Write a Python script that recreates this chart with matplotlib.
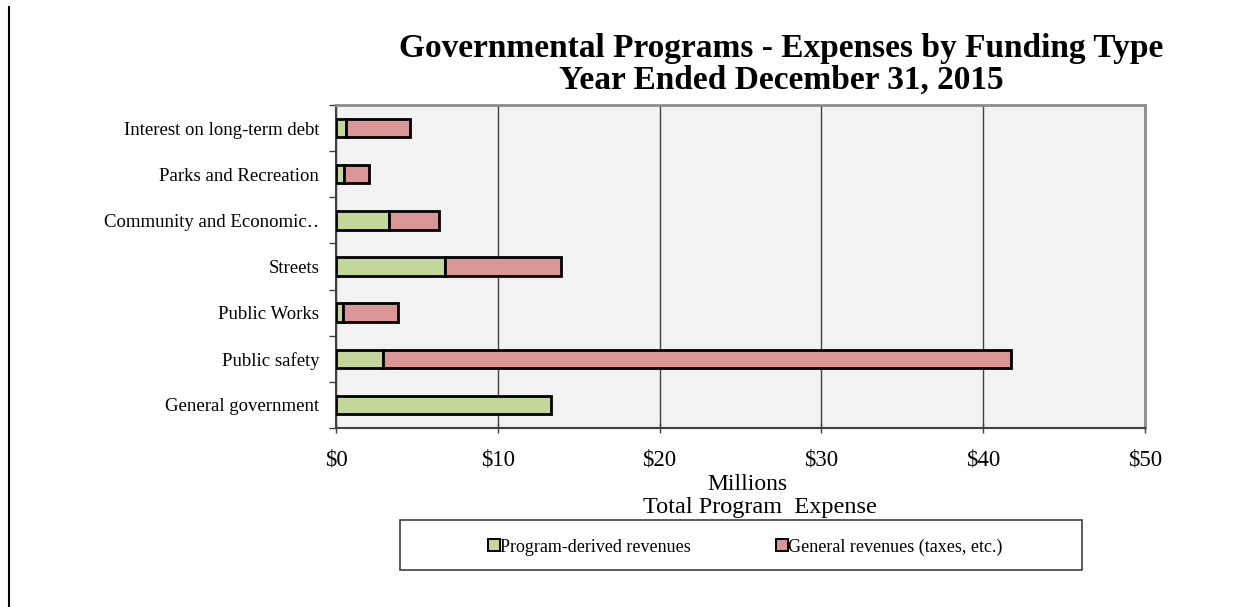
import matplotlib
matplotlib.use("Agg")
import matplotlib.pyplot as plt
from matplotlib.patches import Rectangle
from matplotlib.lines import Line2D
import numpy as np

categories = ["General government", "Public safety", "Public Works", "Streets",
              "Community and Economic\u2025", "Parks and Recreation",
              "Interest on long-term debt"]
program_derived = [13.29, 2.93, 0.45, 6.72, 3.30, 0.51, 0.62]
general_revenues = [0.0, 38.77, 3.36, 7.21, 3.09, 1.55, 3.95]
xtick_values = [0, 10, 20, 30, 40, 50]
xtick_labels = ["$0", "$10", "$20", "$30", "$40", "$50"]
series_names = ["Program-derived revenues", "General revenues (taxes, etc.)"]

green = "#C4D79B"
red = "#DA9694"
serif = ["Liberation Serif", "DejaVu Serif"]

plt.rcParams["font.family"] = serif

fig = plt.figure(figsize=(12.54, 6.07), dpi=100)
ax = fig.add_axes([336/1254, 1-428/607, (1145-336)/1254, (428-105)/607])
ax.set_facecolor("#F2F2F2")

y = np.arange(len(categories))
h = 0.40
ax.barh(y, program_derived, height=h, color=green, edgecolor="black", linewidth=2.0, zorder=3)
gr = np.array(general_revenues)
mask = gr > 0
ax.barh(y[mask], gr[mask], left=np.array(program_derived)[mask], height=h,
        color=red, edgecolor="black", linewidth=2.0, zorder=3)

ax.set_xlim(0, 50)
ax.set_ylim(-0.5, len(categories) - 0.5)
ax.set_xticks(xtick_values)
ax.set_xticklabels(xtick_labels, fontsize=16.5)
ax.set_yticks(y)
ax.set_yticklabels(categories, fontsize=13.5)
ax.set_yticks(np.arange(-0.5, len(categories), 1.0), minor=True)
ax.tick_params(axis="y", which="major", length=0, pad=12)
ax.tick_params(axis="y", which="minor", length=5, width=1, color="#404040", direction="out")
ax.tick_params(axis="x", which="major", length=7, width=1, color="#404040", direction="inout", pad=12)
ax.xaxis.grid(True, color="#404040", linewidth=1.0, zorder=1)
ax.set_axisbelow(True)

for s in ["top", "right"]:
    ax.spines[s].set_color("#8C8C8C")
    ax.spines[s].set_linewidth(2)
ax.spines["left"].set_color("#404040")
ax.spines["left"].set_linewidth(1.5)
ax.spines["bottom"].set_color("#404040")
ax.spines["bottom"].set_linewidth(1.5)

fig.text(781/1254, 1-57/607, "Governmental Programs - Expenses by Funding Type",
         ha="center", va="baseline", fontsize=24, fontweight="bold", family=serif)
fig.text(781/1254, 1-89/607, "Year Ended December 31, 2015",
         ha="center", va="baseline", fontsize=24, fontweight="bold", family=serif)

fig.text(747/1254, 1-484/607, "Millions", ha="center", va="center", fontsize=17)
fig.text(760/1254, 1-507/607, "Total Program  Expense", ha="center", va="center", fontsize=17.5)

# legend box
fig.patches.append(Rectangle((400/1254, 1-570/607), (1082-400)/1254, 50/607,
                             transform=fig.transFigure, facecolor="white",
                             edgecolor="#404040", linewidth=1.2))
handles = [Line2D([], [], marker="s", linestyle="none", markersize=8,
                  markerfacecolor=green, markeredgecolor="black", markeredgewidth=1.4),
           Line2D([], [], marker="s", linestyle="none", markersize=8,
                  markerfacecolor=red, markeredgecolor="black", markeredgewidth=1.4)]
fig.legend(handles, series_names, loc="center", bbox_to_anchor=(745/1254, 1-547/607),
           ncol=2, frameon=False, fontsize=13, handletextpad=0.0, columnspacing=4.7,
           handlelength=0.7)

# left border line
fig.add_artist(Line2D([8.5/1254, 8.5/1254], [0, 1-7/607], transform=fig.transFigure,
                      color="black", linewidth=1.5))

fig.savefig("out.png", dpi=100)
